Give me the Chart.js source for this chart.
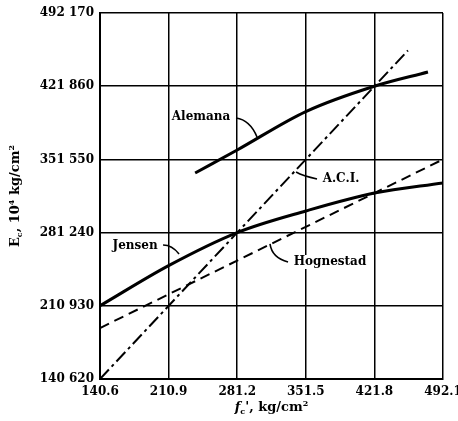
<!DOCTYPE html>
<html>
<head>
<meta charset="utf-8">
<script src="https://cdn.jsdelivr.net/npm/chart.js@4/dist/chart.umd.min.js"></script>
<style>
    html, body { margin: 0; padding: 0; background: #fff; }
    #wrap { width: 458px; height: 421px; }
</style>
</head>
<body>
<div id="wrap"><canvas id="ecChart" width="458" height="421"></canvas></div>
<script>
// axis ticks (fc' in kg/cm2, Ec in 10^4 kg/cm2)
const fcTicks = [140.6, 210.9, 281.2, 351.5, 421.8, 492.1];
const ecTicks = [140620, 210930, 281240, 351550, 421860, 492170];

// curves
const aciX = [140.6, 456.2];
const aciY = [140620, 456200];

const alemanaX = [238.1, 281.2, 351.5, 421.8, 476.7];
const alemanaY = [338500, 360600, 397500, 421860, 435500];

const jensenX = [140.6, 210.9, 281.2, 351.5, 421.8, 492.1];
const jensenY = [210930, 249500, 281240, 302000, 319300, 329000];

const hognestadX = [140.6, 492.1];
const hognestadY = [189600, 351550];

// curve names and their leader lines (data units)
const labelText = ['Alemana', 'A.C.I.', 'Jensen', 'Hognestad'];
const labelAt = [[244.1, 392300], [387.6, 332700], [176.5, 268400], [376.3, 253000]];
const leaders = [
    [[280.0, 391300], [294.3, 389400], [301.5, 373100]],
    [[363.0, 332700], [348.6, 335600], [341.5, 339400]],
    [[205.2, 269300], [214.4, 269300], [221.6, 260700]],
    [[333.3, 253000], [316.9, 256800], [314.8, 270300]]
];

const serif = '"DejaVu Serif", "Liberation Serif", serif';

function points(xs, ys) {
    return xs.map((x, i) => ({ x: x, y: ys[i] }));
}

function spaced(v) {
    const s = String(Math.round(v));
    return s.slice(0, s.length - 3) + ' ' + s.slice(-3);
}

const labelsPlugin = {
    id: 'curveLabels',
    afterDatasetsDraw(chart) {
        const ctx = chart.ctx;
        const xs = chart.scales.x, ys = chart.scales.y;
        ctx.save();
        ctx.fillStyle = '#000';
        ctx.strokeStyle = '#000';
        ctx.lineWidth = 1.6;
        ctx.font = 'bold 12px ' + serif;
        ctx.textAlign = 'center';
        ctx.textBaseline = 'middle';
        labelText.forEach((t, i) => {
            const px = xs.getPixelForValue(labelAt[i][0]);
            const py = ys.getPixelForValue(labelAt[i][1]);
            ctx.fillStyle = '#fff';
            const w = ctx.measureText(t).width;
            ctx.fillRect(px - w / 2 - 1, py - 7, w + 2, 14);
            ctx.fillStyle = '#000';
            ctx.fillText(t, px, py);

            const l = leaders[i];
            ctx.beginPath();
            ctx.moveTo(xs.getPixelForValue(l[0][0]), ys.getPixelForValue(l[0][1]));
            ctx.quadraticCurveTo(xs.getPixelForValue(l[1][0]), ys.getPixelForValue(l[1][1]),
                xs.getPixelForValue(l[2][0]), ys.getPixelForValue(l[2][1]));
            ctx.stroke();
        });

        // axis titles with subscripts
        const midX = (chart.chartArea.left + chart.chartArea.right) / 2;
        ctx.textAlign = 'left';
        ctx.textBaseline = 'alphabetic';
        let parts = [
            ['italic bold 13px ' + serif, 'f', 0],
            ['bold 8px ' + serif, 'c', 3],
            ['bold 13px ' + serif, "', kg/cm", 0],
            ['bold 8px ' + serif, '2', -5]
        ];
        drawParts(ctx, parts, midX, 411);

        const midY = (chart.chartArea.top + chart.chartArea.bottom) / 2;
        ctx.translate(19, midY);
        ctx.rotate(-Math.PI / 2);
        parts = [
            ['bold 13px ' + serif, 'E', 0],
            ['bold 8px ' + serif, 'c', 3],
            ['bold 13px ' + serif, ', 10', 0],
            ['bold 8px ' + serif, '4', -5],
            ['bold 13px ' + serif, ' kg/cm', 0],
            ['bold 8px ' + serif, '2', -5]
        ];
        drawParts(ctx, parts, 0, 0);
        ctx.restore();
    }
};

function drawParts(ctx, parts, cx, y) {
    let total = 0;
    parts.forEach(p => { ctx.font = p[0]; total += ctx.measureText(p[1]).width; });
    let x = cx - total / 2;
    parts.forEach(p => {
        ctx.font = p[0];
        ctx.fillText(p[1], x, y + p[2]);
        x += ctx.measureText(p[1]).width;
    });
}

const lineBase = { showLine: true, pointRadius: 0, borderColor: '#000', fill: false };

new Chart(document.getElementById('ecChart'), {
    type: 'scatter',
    data: {
        datasets: [
            Object.assign({ label: 'A.C.I.', data: points(aciX, aciY), borderWidth: 2, borderDash: [13, 4, 3, 4] }, lineBase),
            Object.assign({ label: 'Alemana', data: points(alemanaX, alemanaY), borderWidth: 3, cubicInterpolationMode: 'monotone' }, lineBase),
            Object.assign({ label: 'Jensen', data: points(jensenX, jensenY), borderWidth: 3, cubicInterpolationMode: 'monotone' }, lineBase),
            Object.assign({ label: 'Hognestad', data: points(hognestadX, hognestadY), borderWidth: 2, borderDash: [10, 6] }, lineBase)
        ]
    },
    options: {
        responsive: false,
        animation: false,
        layout: { padding: { left: 0, right: 15, top: 13, bottom: 0 } },
        plugins: { legend: { display: false }, tooltip: { enabled: false } },
        scales: {
            x: {
                type: 'linear',
                min: fcTicks[0],
                max: fcTicks[fcTicks.length - 1],
                afterBuildTicks: s => { s.ticks = fcTicks.map(v => ({ value: v })); },
                afterFit: s => { s.height = 42; s.paddingLeft = 0; s.paddingRight = 0; },
                border: { color: '#000', width: 2 },
                grid: { color: '#000', lineWidth: 1.5, drawTicks: false },
                ticks: {
                    color: '#000', padding: 6, maxRotation: 0,
                    font: { family: serif, size: 12, weight: 'bold' },
                    callback: v => v.toFixed(1)
                }
            },
            y: {
                type: 'linear',
                min: ecTicks[0],
                max: ecTicks[ecTicks.length - 1],
                afterBuildTicks: s => { s.ticks = ecTicks.map(v => ({ value: v })); },
                afterFit: s => { s.width = 100; s.paddingTop = 0; s.paddingBottom = 0; },
                border: { color: '#000', width: 2 },
                grid: { color: '#000', lineWidth: 1.5, drawTicks: false },
                ticks: {
                    color: '#000', padding: 6,
                    font: { family: serif, size: 12, weight: 'bold' },
                    callback: v => spaced(v)
                }
            }
        }
    },
    plugins: [labelsPlugin]
});
</script>
</body>
</html>
